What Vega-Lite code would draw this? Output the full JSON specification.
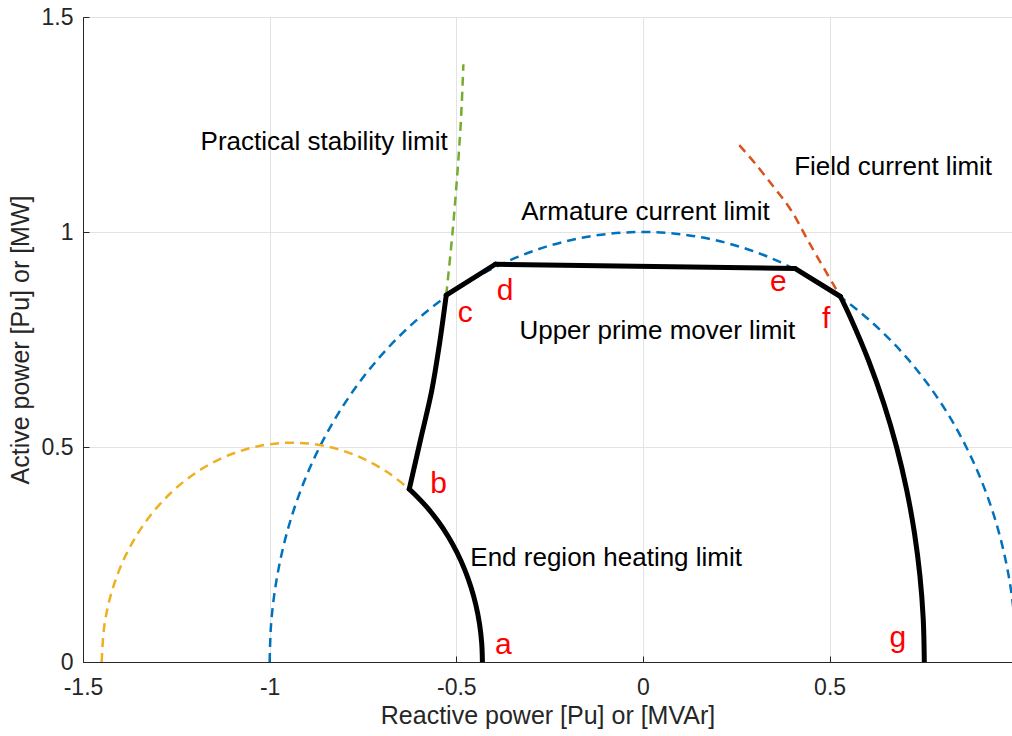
{
  "$schema": "https://vega.github.io/schema/vega-lite/v6.json",
  "width": 929,
  "height": 645,
  "autosize": {"type": "none"},
  "padding": {"left": 83, "top": 17, "right": 0, "bottom": 74},
  "background": "white",
  "config": {
    "view": {"stroke": "#262626", "strokeWidth": 1},
    "font": "Liberation Sans"
  },
  "datasets": {
    "curves": [
      {"series": "armature", "order": 1, "x": -1, "y": 0},
      {"series": "armature", "order": 2, "x": -0.9962, "y": 0.0872},
      {"series": "armature", "order": 3, "x": -0.9848, "y": 0.1736},
      {"series": "armature", "order": 4, "x": -0.9659, "y": 0.2588},
      {"series": "armature", "order": 5, "x": -0.9397, "y": 0.342},
      {"series": "armature", "order": 6, "x": -0.9063, "y": 0.4226},
      {"series": "armature", "order": 7, "x": -0.866, "y": 0.5},
      {"series": "armature", "order": 8, "x": -0.8192, "y": 0.5736},
      {"series": "armature", "order": 9, "x": -0.766, "y": 0.6428},
      {"series": "armature", "order": 10, "x": -0.7071, "y": 0.7071},
      {"series": "armature", "order": 11, "x": -0.6428, "y": 0.766},
      {"series": "armature", "order": 12, "x": -0.5736, "y": 0.8192},
      {"series": "armature", "order": 13, "x": -0.5, "y": 0.866},
      {"series": "armature", "order": 14, "x": -0.4226, "y": 0.9063},
      {"series": "armature", "order": 15, "x": -0.342, "y": 0.9397},
      {"series": "armature", "order": 16, "x": -0.2588, "y": 0.9659},
      {"series": "armature", "order": 17, "x": -0.1736, "y": 0.9848},
      {"series": "armature", "order": 18, "x": -0.0872, "y": 0.9962},
      {"series": "armature", "order": 19, "x": 0, "y": 1},
      {"series": "armature", "order": 20, "x": 0.0872, "y": 0.9962},
      {"series": "armature", "order": 21, "x": 0.1736, "y": 0.9848},
      {"series": "armature", "order": 22, "x": 0.2588, "y": 0.9659},
      {"series": "armature", "order": 23, "x": 0.342, "y": 0.9397},
      {"series": "armature", "order": 24, "x": 0.4226, "y": 0.9063},
      {"series": "armature", "order": 25, "x": 0.5, "y": 0.866},
      {"series": "armature", "order": 26, "x": 0.5736, "y": 0.8192},
      {"series": "armature", "order": 27, "x": 0.6428, "y": 0.766},
      {"series": "armature", "order": 28, "x": 0.7071, "y": 0.7071},
      {"series": "armature", "order": 29, "x": 0.766, "y": 0.6428},
      {"series": "armature", "order": 30, "x": 0.8192, "y": 0.5736},
      {"series": "armature", "order": 31, "x": 0.866, "y": 0.5},
      {"series": "armature", "order": 32, "x": 0.9063, "y": 0.4226},
      {"series": "armature", "order": 33, "x": 0.9397, "y": 0.342},
      {"series": "armature", "order": 34, "x": 0.9659, "y": 0.2588},
      {"series": "armature", "order": 35, "x": 0.9848, "y": 0.1736},
      {"series": "armature", "order": 36, "x": 0.9962, "y": 0.0872},
      {"series": "armature", "order": 37, "x": 1, "y": 0},
      {"series": "heating", "order": 1, "x": -1.45, "y": 0},
      {"series": "heating", "order": 2, "x": -1.4422, "y": 0.0886},
      {"series": "heating", "order": 3, "x": -1.4192, "y": 0.1744},
      {"series": "heating", "order": 4, "x": -1.3817, "y": 0.255},
      {"series": "heating", "order": 5, "x": -1.3307, "y": 0.3278},
      {"series": "heating", "order": 6, "x": -1.2678, "y": 0.3907},
      {"series": "heating", "order": 7, "x": -1.195, "y": 0.4417},
      {"series": "heating", "order": 8, "x": -1.1144, "y": 0.4792},
      {"series": "heating", "order": 9, "x": -1.0285, "y": 0.5022},
      {"series": "heating", "order": 10, "x": -0.94, "y": 0.51},
      {"series": "heating", "order": 11, "x": -0.8515, "y": 0.5022},
      {"series": "heating", "order": 12, "x": -0.7656, "y": 0.4792},
      {"series": "heating", "order": 13, "x": -0.685, "y": 0.4417},
      {"series": "heating", "order": 14, "x": -0.626, "y": 0.402},
      {"series": "stability", "order": 1, "x": -0.527, "y": 0.853},
      {"series": "stability", "order": 2, "x": -0.51, "y": 1.0},
      {"series": "stability", "order": 3, "x": -0.496, "y": 1.15},
      {"series": "stability", "order": 4, "x": -0.487, "y": 1.27},
      {"series": "stability", "order": 5, "x": -0.481, "y": 1.39},
      {"series": "field", "order": 1, "x": 0.258, "y": 1.202},
      {"series": "field", "order": 2, "x": 0.3, "y": 1.16},
      {"series": "field", "order": 3, "x": 0.35, "y": 1.105},
      {"series": "field", "order": 4, "x": 0.395, "y": 1.053},
      {"series": "field", "order": 5, "x": 0.448, "y": 0.971},
      {"series": "field", "order": 6, "x": 0.51, "y": 0.878},
      {"series": "field", "order": 7, "x": 0.529, "y": 0.85}
    ],
    "boundary": [
      {"seg": "ab", "order": 1, "x": -0.43, "y": 0},
      {"seg": "ab", "order": 2, "x": -0.432, "y": 0.0444},
      {"seg": "ab", "order": 3, "x": -0.4378, "y": 0.0886},
      {"seg": "ab", "order": 4, "x": -0.4474, "y": 0.132},
      {"seg": "ab", "order": 5, "x": -0.4608, "y": 0.1744},
      {"seg": "ab", "order": 6, "x": -0.4778, "y": 0.2155},
      {"seg": "ab", "order": 7, "x": -0.4983, "y": 0.255},
      {"seg": "ab", "order": 8, "x": -0.5222, "y": 0.2925},
      {"seg": "ab", "order": 9, "x": -0.5493, "y": 0.3278},
      {"seg": "ab", "order": 10, "x": -0.5794, "y": 0.3606},
      {"seg": "ab", "order": 11, "x": -0.6122, "y": 0.3907},
      {"seg": "ab", "order": 12, "x": -0.626, "y": 0.402},
      {"seg": "bc", "order": 1, "x": -0.626, "y": 0.402},
      {"seg": "bc", "order": 2, "x": -0.595, "y": 0.52},
      {"seg": "bc", "order": 3, "x": -0.566, "y": 0.63},
      {"seg": "bc", "order": 4, "x": -0.545, "y": 0.74},
      {"seg": "bc", "order": 5, "x": -0.527, "y": 0.853},
      {"seg": "cd", "order": 1, "x": -0.527, "y": 0.853},
      {"seg": "cd", "order": 2, "x": -0.3955, "y": 0.925},
      {"seg": "de", "order": 1, "x": -0.3955, "y": 0.925},
      {"seg": "de", "order": 2, "x": 0.408, "y": 0.915},
      {"seg": "ef", "order": 1, "x": 0.408, "y": 0.915},
      {"seg": "ef", "order": 2, "x": 0.529, "y": 0.85},
      {"seg": "fg", "order": 1, "x": 0.529, "y": 0.85},
      {"seg": "fg", "order": 2, "x": 0.5563, "y": 0.8},
      {"seg": "fg", "order": 3, "x": 0.6048, "y": 0.7},
      {"seg": "fg", "order": 4, "x": 0.6456, "y": 0.6},
      {"seg": "fg", "order": 5, "x": 0.6794, "y": 0.5},
      {"seg": "fg", "order": 6, "x": 0.7065, "y": 0.4},
      {"seg": "fg", "order": 7, "x": 0.7273, "y": 0.3},
      {"seg": "fg", "order": 8, "x": 0.742, "y": 0.2},
      {"seg": "fg", "order": 9, "x": 0.7508, "y": 0.1},
      {"seg": "fg", "order": 10, "x": 0.7537, "y": 0}
    ],
    "labels": [
      {"label": "Practical stability limit", "x": -1.185, "y": 1.19},
      {"label": "Field current limit", "x": 0.405, "y": 1.132},
      {"label": "Armature current limit", "x": -0.326, "y": 1.027},
      {"label": "Upper prime mover limit", "x": -0.331, "y": 0.752},
      {"label": "End region heating limit", "x": -0.4625, "y": 0.2236}
    ],
    "letters": [
      {"label": "a", "x": -0.374, "y": 0.0186},
      {"label": "b", "x": -0.5474, "y": 0.3937},
      {"label": "c", "x": -0.476, "y": 0.79},
      {"label": "d", "x": -0.369, "y": 0.843},
      {"label": "e", "x": 0.3626, "y": 0.862},
      {"label": "f", "x": 0.491, "y": 0.7757},
      {"label": "g", "x": 0.683, "y": 0.0349}
    ]
  },
  "layer": [
    {
      "data": {"name": "curves"},
      "mark": {"type": "line", "strokeWidth": 2.5, "strokeDash": [9, 6], "interpolate": "catmull-rom", "clip": true},
      "encoding": {
        "x": {
          "field": "x", "type": "quantitative",
          "scale": {"domain": [-1.5, 0.9886], "nice": false, "zero": false},
          "axis": {
            "title": "Reactive power [Pu] or [MVAr]",
            "values": [-1.5, -1, -0.5, 0, 0.5],
            "format": "~g",
            "labelExpr": "replace(datum.label, '\u2212', '-')",
            "labelFlush": false,
            "labelOverlap": false,
            "grid": true, "gridColor": "#e3e3e3", "gridWidth": 1,
            "domainColor": "#262626", "tickColor": "#262626", "tickSize": -6,
            "labelFontSize": 23, "labelColor": "#262626", "labelPadding": 20,
            "titleFontSize": 25, "titleColor": "#262626", "titleFontWeight": "normal", "titlePadding": 4
          }
        },
        "y": {
          "field": "y", "type": "quantitative",
          "scale": {"domain": [0, 1.5], "nice": false},
          "axis": {
            "title": "Active power [Pu] or [MW]",
            "values": [0, 0.5, 1, 1.5],
            "format": "~g",
            "labelOverlap": false,
            "grid": true, "gridColor": "#e3e3e3", "gridWidth": 1,
            "domainColor": "#262626", "tickColor": "#262626", "tickSize": -6,
            "labelFontSize": 23, "labelColor": "#262626", "labelPadding": 16,
            "titleFontSize": 25, "titleColor": "#262626", "titleFontWeight": "normal", "titlePadding": 8
          }
        },
        "order": {"field": "order", "type": "quantitative"},
        "color": {
          "field": "series", "type": "nominal",
          "scale": {"domain": ["armature", "heating", "stability", "field"], "range": ["#0072BD", "#EDB120", "#77AC30", "#D95319"]},
          "legend": null
        }
      }
    },
    {
      "data": {"name": "boundary"},
      "mark": {"type": "line", "strokeWidth": 5, "color": "black", "interpolate": "catmull-rom", "strokeCap": "round", "strokeJoin": "round", "clip": true},
      "encoding": {
        "x": {"field": "x", "type": "quantitative"},
        "y": {"field": "y", "type": "quantitative"},
        "detail": {"field": "seg", "type": "nominal"},
        "order": {"field": "order", "type": "quantitative"}
      }
    },
    {
      "data": {"name": "labels"},
      "mark": {"type": "text", "align": "left", "baseline": "alphabetic", "fontSize": 26, "color": "black"},
      "encoding": {
        "x": {"field": "x", "type": "quantitative"},
        "y": {"field": "y", "type": "quantitative"},
        "text": {"field": "label"}
      }
    },
    {
      "data": {"name": "letters"},
      "mark": {"type": "text", "align": "center", "baseline": "alphabetic", "fontSize": 30, "color": "#FF0000"},
      "encoding": {
        "x": {"field": "x", "type": "quantitative"},
        "y": {"field": "y", "type": "quantitative"},
        "text": {"field": "label"}
      }
    }
  ]
}
